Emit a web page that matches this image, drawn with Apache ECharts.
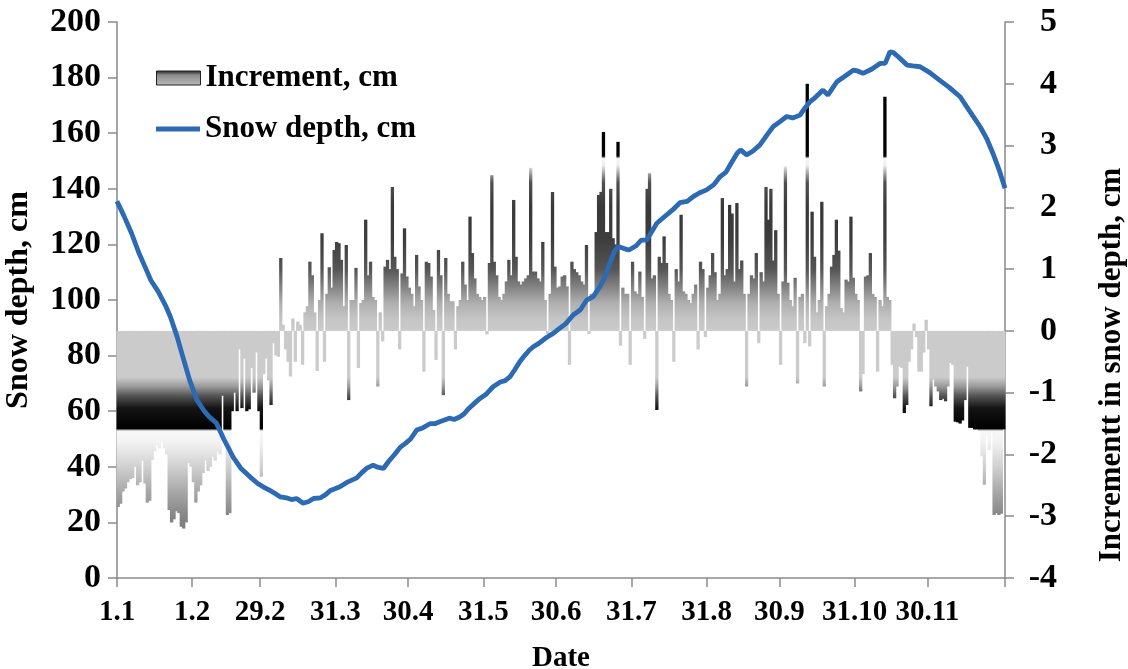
<!DOCTYPE html>
<html><head><meta charset="utf-8">
<script src="https://cdn.jsdelivr.net/npm/echarts@6/dist/echarts.min.js"></script>
<style>html,body{margin:0;padding:0;background:#fff}#c{width:1128px;height:669px}</style>
</head><body><div id="c"></div>
<script>
// x ticks (day-of-year boundaries) and their labels
const tickDays = [0,31,59,90,120,151,181,212,243,273,304,334,366];
const tickLabels = ['1.1','1.2','29.2','31.3','30.4','31.5','30.6','31.7','31.8','30.9','31.10','30.11',''];

// Daily increment in snow depth, cm (right axis), day 1 .. 366
const increment = [
-2.85,-2.8,-2.6,-2.55,-2.45,-2.4,-2.38,-2.2,-2.5,-2.45,
-2.1,-2.47,-2.78,-2.75,-2.09,-1.95,-1.85,-1.9,-1.8,-1.9,
-2.0,-2.9,-3.1,-3.05,-2.92,-2.95,-3.17,-3.2,-3.1,-2.14,
-2.2,-2.45,-2.78,-2.6,-2.5,-2.3,-2.1,-2.27,-2.2,-2.04,
-2.1,-1.95,-2.0,-1.05,-1.7,-2.98,-2.95,-1.3,-1.0,-1.3,
-0.3,-1.25,-0.45,-1.3,-1.27,-0.6,-1.0,-0.35,-1.3,-2.36,
-0.7,-0.45,-0.8,-1.2,-0.2,-0.4,-0.42,1.18,0.1,-0.3,
-0.5,-0.74,0.2,-0.5,0.15,0.1,-0.55,0.3,0.4,1.12,
0.9,0.3,-0.65,0.5,1.58,-0.5,0.6,1.03,0.7,1.31,
1.44,1.42,1.15,0.4,1.39,-1.12,0.5,0.5,1.02,-0.6,
0.45,0.5,1.8,0.9,1.12,0.55,0.5,-0.9,0.3,-0.17,
1.04,1.15,1.0,2.33,1.2,1.0,-0.3,0.93,1.66,0.88,
0.7,0.6,0.4,1.23,0.72,0.5,-0.66,1.12,1.1,0.88,
0.34,-0.47,1.31,0.9,-1.04,1.18,0.6,0.48,0.48,-0.3,
0.4,0.5,1.12,0.75,0.5,1.85,1.26,0.85,0.6,0.55,
0.5,0.55,-0.06,1.1,2.52,1.12,0.9,0.55,0.5,0.6,
0.8,1.15,0.9,2.12,1.2,0.8,0.75,0.8,0.85,0.9,
2.64,0.96,0.96,0.85,0.8,1.44,0.5,-0.05,0.6,2.25,
1.04,0.7,0.72,0.88,0.9,0.72,-0.55,1.12,1.0,0.95,
0.9,0.8,0.75,1.39,-0.05,0.6,0.6,1.6,2.2,2.25,
3.22,1.6,1.6,2.3,1.5,1.4,3.06,-0.24,0.7,0.6,
0.6,-0.55,1.12,0.64,0.6,0.96,0.55,-0.13,2.3,2.55,
0.85,0.9,-1.28,1.2,1.1,1.53,1.1,0.6,0.5,-0.5,
1.0,0.8,1.88,0.64,0.6,0.5,0.45,0.6,0.75,-0.3,
1.12,1.0,-0.1,0.7,0.9,1.26,0.95,0.5,0.6,2.15,
0.9,1.0,2.04,1.9,0.8,2.07,1.0,1.14,0.6,-0.9,
0.6,0.9,0.85,1.26,-0.2,0.95,0.8,2.33,1.8,2.3,
1.14,1.63,0.6,-0.55,0.8,2.66,0.78,0.5,0.4,0.86,
-0.85,0.55,0.6,-0.2,4.0,-0.25,1.93,1.2,0.3,0.5,
2.09,-0.9,0.4,0.6,1.04,1.23,1.8,1.3,0.37,0.3,
0.83,0.8,1.85,0.86,0.6,0.5,-0.98,-0.7,0.88,0.9,
1.26,0.6,0.55,-0.66,0.5,0.4,3.79,0.55,0.5,-0.55,
-1.09,-0.9,-0.58,-0.6,-1.33,-1.2,-0.5,-0.3,0.12,-0.1,
-0.66,-0.66,-0.35,0.18,-0.3,-1.22,-0.79,-0.9,-0.98,-1.12,
-1.1,-1.14,-0.9,-0.52,-0.55,-1.47,-1.48,-1.5,-1.45,-1.12,
-0.58,-1.57,-1.57,-1.6,-1.6,-1.62,-2.03,-2.49,-1.7,-1.93,
-1.65,-2.98,-2.95,-2.98,-2.96,-1.6
];

// Snow depth, cm (left axis): position in days and value
const depthDays = [0,3,6,9,11.5,14,17,20,22,24.7,27,30,33,36,38,41,44,47.8,51,54.8,58,60.2,63,65,67.2,70,72,74,76.7,79,81,83.7,86,88,91.9,95,98.8,101,103,105.6,107,109.8,112,114.5,116.7,119,121,123.5,126,129,131,133,135,137,139,141.4,143,145,147.5,149.6,152,155,158,160,162,164,166,168,170,171.6,174,177,179.8,182,185,188,191,193.6,196.3,199,201,203,205,206.6,209,211,214,216,218.3,220,222.5,225,229,232,235,237.5,240,243,246,248.6,251,253,255.6,257,259.5,262,265,268,270.5,273,276,278.5,281.5,283.5,285.6,288,291,293,296.7,300,303.5,305.5,307.5,311,314.5,316.6,318.6,320,322,325.6,328,331,335,339,343,347.5,351,355.7,358.5,361,363.5,366];
const depthValues = [135.5,130,124,117,112,107,103,98,94,87,80,71,64,60,58,55.7,50,43.6,39.5,36.4,34,32.8,31.5,30.5,29.2,28.8,28.2,28.6,26.9,27.5,28.6,28.8,30,31.5,32.8,34.5,36,38,39.5,40.6,40,39.4,42,44.5,47,48.5,50,53.2,54,55.5,55.5,56.2,56.8,57.5,57,58,59,61,63,64.6,66,68.8,70.5,71,72.4,75,77.8,80,82,83.2,84.5,86.5,88,89.5,91.5,94.6,96.5,100,101.2,104.8,108,113,117.5,119.2,118.5,118,119.5,121.5,121.6,124,127.6,129.5,132.4,135,135.5,137.2,138.5,139.6,141.5,144.4,146,149,152.8,154,152.2,153.5,155.8,159.5,162.4,164,166,165.5,166.5,169,171.3,173,175.5,173.7,178.5,180.5,182.7,182.3,181.5,183,185.1,185.1,189.3,189,187.5,184.5,184.2,183.9,181.8,179.1,176.5,173.1,168.5,162.4,158,152.8,147,140.2];

const FONT = 'Liberation Serif';
const G_TOP = 22, G_BOTTOM = 91, G_LEFT = 117, G_RIGHT = 123, H = 669;
const R_MAX = 5, R_MIN = -4;
const LINE_BLUE = '#2d6ab4';

// fill gradient defined against the right-axis value scale
const gradStops = [
  [5,'#000000'],[2.83,'#000000'],[2.79,'#f6f6f6'],[2.68,'#eeeeee'],[2.55,'#a0a0a0'],
  [2.4,'#505050'],[2.0,'#383838'],[1.5,'#3c3c3c'],[1.0,'#555555'],[0.7,'#858585'],
  [0.45,'#afafaf'],[0.2,'#c4c4c4'],[0,'#cbcbcb'],[-0.75,'#cbcbcb'],[-0.9,'#9a9a9a'],
  [-1.05,'#555555'],[-1.25,'#141414'],[-1.58,'#000000'],[-1.62,'#f8f8f8'],[-1.8,'#f2f2f2'],
  [-2.2,'#d0d0d0'],[-2.6,'#a8a8a8'],[-3.0,'#858585'],[-4,'#5a5a5a']
];
const barFill = {
  type:'linear', global:true, x:0, y:G_TOP, x2:0, y2:H-G_BOTTOM,
  colorStops: gradStops.map(s => ({offset:(R_MAX - s[0])/(R_MAX - R_MIN), color:s[1]}))
};

const labelMap = {};
tickDays.forEach((d,i)=>{ labelMap[d] = tickLabels[i]; });

const axisLineStyle = {color:'#8a8a8a', width:1.5};
const txt = (fs) => ({fontFamily:FONT, fontWeight:'bold', fontSize:fs, color:'#000'});

const chart = echarts.init(document.getElementById('c'), null, {renderer:'canvas'});
chart.setOption({
  animation:false,
  backgroundColor:'#fff',
  grid:{left:G_LEFT, right:G_RIGHT, top:G_TOP, bottom:G_BOTTOM, containLabel:false, outerBoundsMode:'none'},
  legend:[{
    orient:'vertical', left:151, top:57, itemWidth:44, itemHeight:14,
    textStyle:Object.assign(txt(31), {lineHeight:32}),
    data:[
      {name:'Increment, cm', icon:'rect', itemStyle:{
        color:{type:'linear',x:0,y:0,x2:0,y2:1,colorStops:[{offset:0,color:'#1a1a1a'},{offset:0.3,color:'#8a8a8a'},{offset:1,color:'#bdbdbd'}]},
        borderColor:'#222', borderWidth:1}}
    ]
  },{
    orient:'vertical', left:151, top:108, itemWidth:44, itemHeight:5,
    textStyle:Object.assign(txt(31), {lineHeight:32}),
    data:[{name:'Snow depth, cm', icon:'rect', itemStyle:{color:LINE_BLUE}}]
  }],
  xAxis:{
    type:'value', min:0, max:366,
    axisLine:{show:true, lineStyle:axisLineStyle},
    axisTick:{show:true, customValues:tickDays, length:9, lineStyle:axisLineStyle},
    axisLabel:Object.assign({customValues:tickDays.slice(0,12), margin:20, formatter:v=>labelMap[v]}, txt(29)),
    splitLine:{show:false},
    name:'Date', nameLocation:'middle', nameGap:66, nameTextStyle:txt(29)
  },
  yAxis:[
    {type:'value', min:0, max:200, interval:20, position:'left',
     axisLine:{show:true, lineStyle:axisLineStyle},
     axisTick:{show:true, length:9, lineStyle:axisLineStyle},
     axisLabel:Object.assign({margin:16}, txt(34)),
     splitLine:{show:false},
     name:'Snow depth, cm', nameLocation:'middle', nameGap:82, nameRotate:90, nameTextStyle:txt(32)},
    {type:'value', min:R_MIN, max:R_MAX, interval:1, position:'right',
     axisLine:{show:true, lineStyle:axisLineStyle},
     axisTick:{show:true, length:9, lineStyle:axisLineStyle},
     axisLabel:Object.assign({margin:52, align:'right'}, txt(34)),
     splitLine:{show:false}}
  ],
  graphic:[{
    type:'text', x:1112, y:365, rotation:Math.PI/2,
    style:{text:'Incrementt in snow depth, cm', fontFamily:FONT, fontWeight:'bold', fontSize:31,
      fill:'#000', align:'center', verticalAlign:'middle', textAlign:'center', textVerticalAlign:'middle'}
  }],
  series:[
    {type:'bar', name:'Increment, cm', yAxisIndex:1, barWidth:3.3, z:2,
     itemStyle:{color:barFill},
     data: increment.map((v,i)=>[i+0.5, v])},
    {type:'line', name:'Snow depth, cm', yAxisIndex:0, symbol:'none', z:3, smooth:false,
     lineStyle:{color:LINE_BLUE, width:4.8},
     itemStyle:{color:LINE_BLUE},
     data: depthDays.map((d,i)=>[d, depthValues[i]])}
  ]
});
</script></body></html>
